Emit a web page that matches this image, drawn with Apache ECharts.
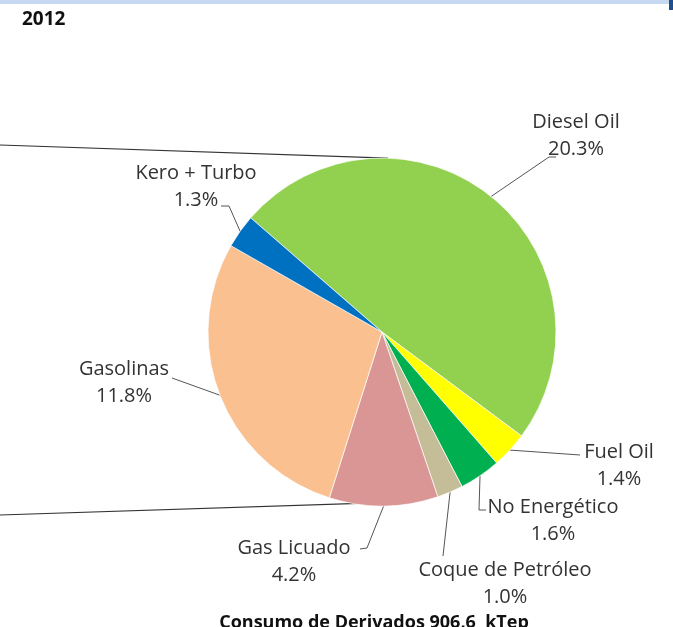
<!DOCTYPE html>
<html>
<head>
<meta charset="utf-8">
<script src="https://cdn.jsdelivr.net/npm/echarts@6/dist/echarts.min.js"></script>
<style>
html,body{margin:0;padding:0;background:#fff;}
#c{width:673px;height:627px;}
</style>
</head>
<body>
<div id="c"></div>
<script>
// ---- data ----
var categories = ['Diesel Oil', 'Fuel Oil', 'No Energético', 'Coque de Petróleo', 'Gas Licuado', 'Gasolinas', 'Kero + Turbo'];
var values = [20.3, 1.4, 1.6, 1.0, 4.2, 11.8, 1.3];
var yearTitle = '2012';
var footTitle = 'Consumo de Derivados 906,6  kTep';

// ---- style ----
var colors = ['#92D050', '#FFFF00', '#00B050', '#C4BD97', '#D99694', '#FAC090', '#0070C0'];
var CX = 382, CY = 332, R = 174;
// label centre + elbow of leader line per slice
var labelPos = [
  {x: 576, y: 136, elbow: [[549, 157], [556, 157]]},
  {x: 619, y: 466, elbow: [[580, 455]]},
  {x: 553, y: 521, elbow: [[479, 510], [486, 510]]},
  {x: 505, y: 584, elbow: [[443, 556]]},
  {x: 294, y: 562, elbow: [[367, 548], [360, 549]]},
  {x: 124, y: 383, elbow: [[172, 378]]},
  {x: 196, y: 187, elbow: [[229, 206], [221, 206]]}
];

var chart = echarts.init(document.getElementById('c'), null, {renderer: 'canvas'});

var data = categories.map(function (n, i) {
  return {name: n, value: values[i], itemStyle: {color: colors[i]}};
});

function polar(deg) {
  var a = deg * Math.PI / 180;
  return [CX + R * Math.cos(a), CY - R * Math.sin(a)];
}
var topEnd = polar(88);
var botEnd = polar(-92.5);

chart.setOption({
  animation: false,
  backgroundColor: '#fff',
  graphic: [
    {type: 'rect', shape: {x: 0, y: 0, width: 673, height: 4}, style: {fill: '#C6D9F1'}},
    {type: 'rect', shape: {x: 669, y: 0, width: 4, height: 10}, style: {fill: '#1F4E8C'}},
    {type: 'text', left: 22, top: 10, style: {text: yearTitle, font: 'bold 19px "Open Sans", sans-serif', fill: '#111'}},
    {type: 'line', shape: {x1: 0, y1: 145, x2: topEnd[0], y2: topEnd[1]}, style: {stroke: '#333', lineWidth: 1.2}, z: -1},
    {type: 'line', shape: {x1: 0, y1: 515, x2: botEnd[0], y2: botEnd[1] - 3}, style: {stroke: '#333', lineWidth: 1.2}, z: -1},
    {type: 'text', x: 374, y: 623, style: {text: footTitle, font: 'bold 18px "Open Sans", sans-serif', fill: '#111', align: 'center', verticalAlign: 'middle'}}
  ],
  series: [{
    type: 'pie',
    center: [CX, CY],
    radius: [0, R],
    startAngle: 139,
    clockwise: true,
    avoidLabelOverlap: false,
    data: data,
    itemStyle: {borderColor: '#fff', borderWidth: 0.7},
    label: {
      show: true,
      position: 'outside',
      formatter: function (p) { return p.name + '\n' + p.value.toFixed(1) + '%'; },
      fontFamily: '"Open Sans", sans-serif',
      fontSize: 20,
      lineHeight: 27,
      color: '#333',
      align: 'center'
    },
    labelLine: {show: true, lineStyle: {color: '#555', width: 1}},
    labelLayout: function (p) {
      var lp = labelPos[p.dataIndex];
      var start = p.labelLinePoints ? p.labelLinePoints[0] : [CX, CY];
      return {
        x: lp.x, y: lp.y, align: 'center', verticalAlign: 'middle',
        labelLinePoints: [start].concat(lp.elbow)
      };
    }
  }]
});
</script>
</body>
</html>
